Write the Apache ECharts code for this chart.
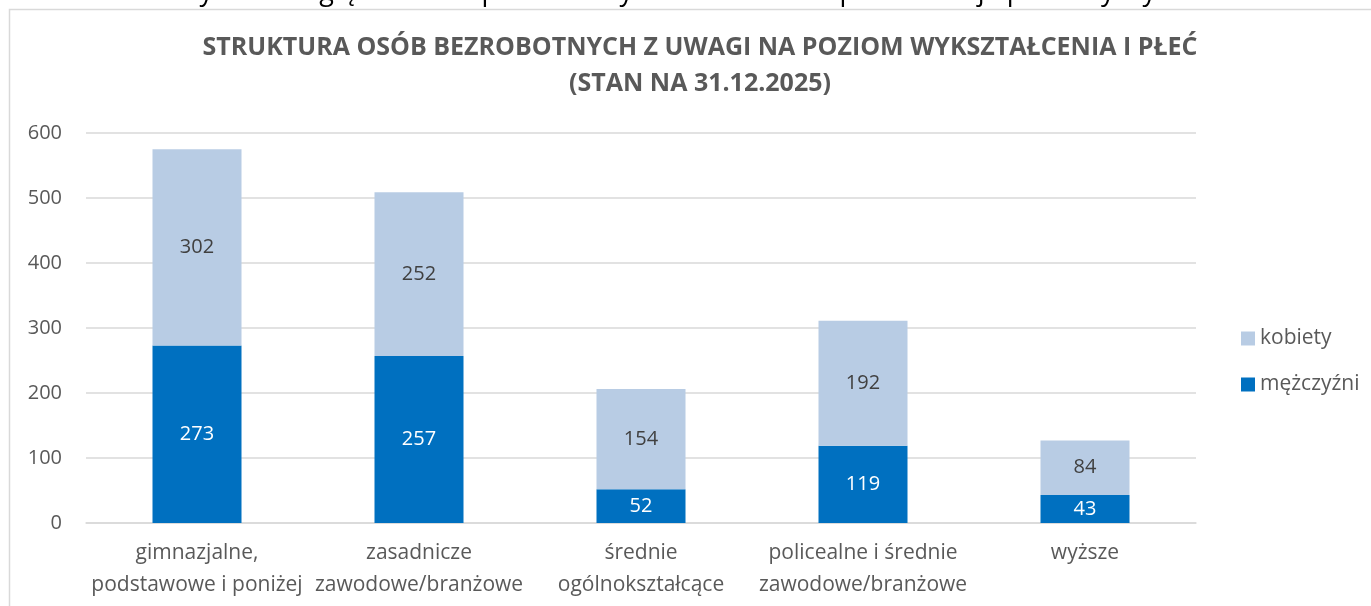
<!DOCTYPE html>
<html lang="pl">

<head>
    <meta charset="UTF-8">
    <title>Struktura osób bezrobotnych</title>
    <style>
        html,
        body,
        #container {
            width: 100%;
            height: 100%;
            margin: 0;
            padding: 0;
            background: #fff;
        }
    </style>
    <script src="https://cdn.jsdelivr.net/npm/echarts@6/dist/echarts.min.js"></script>
</head>

<body>
    <div id="container"></div>
    <script>
        var categories = [
            'gimnazjalne,\npodstawowe i poniżej',
            'zasadnicze\nzawodowe/branżowe',
            'średnie\nogólnokształcące',
            'policealne i średnie\nzawodowe/branżowe',
            'wyższe'
        ];
        var mezczyzni = [273, 257, 52, 119, 43];
        var kobiety = [302, 252, 154, 192, 84];
        var yTicks = { min: 0, max: 600, interval: 100 };

        var font = '"Open Sans"';
        var grey = '#595959';

        var chart = echarts.init(document.getElementById('container'));

        chart.setOption({
            animation: false,
            textStyle: { fontFamily: font },
            title: {
                text: 'STRUKTURA OSÓB BEZROBOTNYCH Z UWAGI NA POZIOM WYKSZTAŁCENIA I PŁEĆ\n(STAN NA 31.12.2025)',
                left: 695,
                top: 25,
                textAlign: 'center',
                textStyle: {
                    fontFamily: font,
                    fontSize: 25,
                    fontWeight: 'bold',
                    color: grey,
                    lineHeight: 36
                }
            },
            graphic: [{
                type: 'rect',
                shape: { x: 9.5, y: 9.5, width: 1500, height: 800 },
                style: { fill: 'none', stroke: '#d9d9d9', lineWidth: 1.5 },
                silent: true
            }, {
                // line of body text above the chart, cut off by the crop
                type: 'text',
                x: 0,
                y: -8,
                style: {
                    text: 'osób bezrobotnych z uwzględnieniem poziomu wykształcenia oraz płci obrazuje poniższy wykres.',
                    font: '27px ' + font,
                    fill: '#000',
                    verticalAlign: 'middle'
                },
                silent: true
            }],
            legend: {
                orient: 'vertical',
                left: 1236,
                top: 323,
                itemWidth: 14,
                itemHeight: 14,
                itemGap: 25,
                icon: 'rect',
                data: ['kobiety', 'mężczyźni'],
                textStyle: { fontFamily: font, fontSize: 21, color: grey }
            },
            grid: {
                left: 86,
                right: 175,
                top: 133,
                bottom: 83
            },
            xAxis: {
                type: 'category',
                data: categories,
                axisLine: { lineStyle: { color: '#d9d9d9', width: 1.5 } },
                axisTick: { show: false },
                axisLabel: {
                    interval: 0,
                    fontSize: 21,
                    lineHeight: 32,
                    color: grey,
                    margin: 14
                }
            },
            yAxis: {
                type: 'value',
                min: yTicks.min,
                max: yTicks.max,
                interval: yTicks.interval,
                axisLine: { show: false },
                axisTick: { show: false },
                axisLabel: { fontSize: 20, color: grey, margin: 24 },
                splitLine: { lineStyle: { color: '#d9d9d9', width: 1.5 } }
            },
            series: [{
                name: 'mężczyźni',
                type: 'bar',
                stack: 'plec',
                barWidth: 89,
                data: mezczyzni,
                itemStyle: { color: '#0070c0' },
                label: { show: true, position: 'inside', fontSize: 20, color: '#fff' }
            }, {
                name: 'kobiety',
                type: 'bar',
                stack: 'plec',
                barWidth: 89,
                data: kobiety,
                itemStyle: { color: '#b8cce4' },
                label: { show: true, position: 'inside', fontSize: 20, color: '#404040' }
            }]
        });
    </script>
</body>

</html>
